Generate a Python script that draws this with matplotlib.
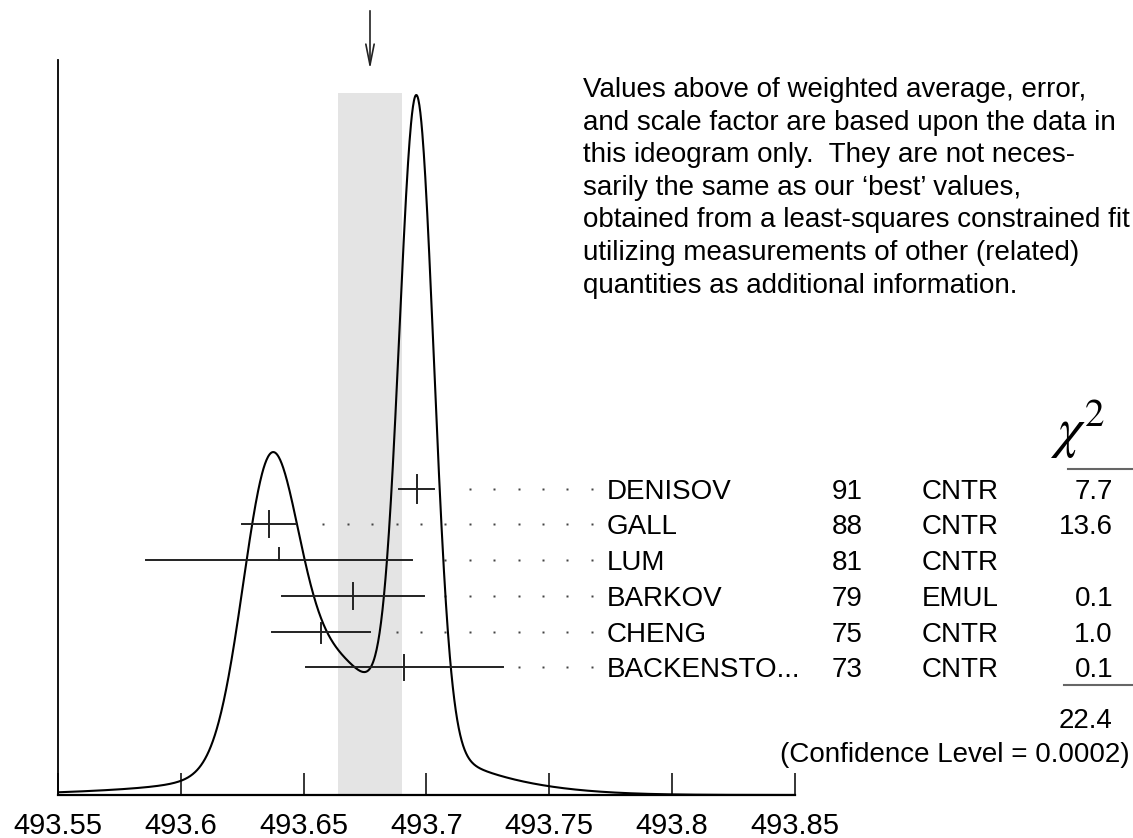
import numpy as np
import matplotlib
matplotlib.use("Agg")
import matplotlib.pyplot as plt
from matplotlib.transforms import blended_transform_factory

plt.rcParams['font.family'] = ['Liberation Sans', 'DejaVu Sans']
plt.rcParams['mathtext.fontset'] = 'stix'

# measurements (ideogram data)
names = ['DENISOV', 'GALL', 'LUM', 'BARKOV', 'CHENG', 'BACKENSTO...']
years = ['91', '88', '81', '79', '75', '73']
techs = ['CNTR', 'CNTR', 'CNTR', 'EMUL', 'CNTR', 'CNTR']
chi2_vals = ['7.7', '13.6', '', '0.1', '1.0', '0.1']
values = [493.696, 493.636, 493.640, 493.670, 493.657, 493.691]
errors = [0.007, 0.011, 0.054, 0.029, 0.020, 0.040]

avg_value = 493.677
avg_error = 0.013
scale_factor = 2.4
chi2_total = '22.4'
conf_level = '0.0002'

tick_vals = [493.55, 493.6, 493.65, 493.7, 493.75, 493.8, 493.85]
tick_labels = ['493.55', '493.6', '493.65', '493.7', '493.75', '493.8', '493.85']

note = ("Values above of weighted average, error,\n"
        "and scale factor are based upon the data in\n"
        "this ideogram only.  They are not neces-\n"
        "sarily the same as our \u2018best\u2019 values,\n"
        "obtained from a least-squares constrained fit\n"
        "utilizing measurements of other (related)\n"
        "quantities as additional information.")

# layout in pixels
W, H = 1133, 838
base_px, top_px = 795, 60
row_px = [489, 524, 560, 596, 632, 667]
tick_up = [14, 12.5, 12, 13, 9, 12.5]
tick_dn = [14, 12.5, 0, 13, 11, 12.5]


def yd(py):
    # pixel row -> data y of the axes
    return (base_px - py) / (base_px - top_px)


fig = plt.figure(figsize=(W / 100, H / 100), dpi=100)
ax = fig.add_axes([58 / W, (H - base_px) / H, 737 / W, (base_px - top_px) / H])
ax.set_xlim(tick_vals[0], tick_vals[-1])
ax.set_ylim(0, 1)

# ideogram: gaussians with area proportional to 1/error
xs = np.linspace(tick_vals[0], tick_vals[-1], 1500)
curve = np.zeros_like(xs)
for v, e in zip(values, errors):
    curve += np.exp(-0.5 * ((xs - v) / e) ** 2) / e ** 2
curve = curve / curve.max() * yd(95)
ax.plot(xs, curve, color='black', lw=1.5, zorder=3)

# weighted average band + arrow
ax.axvspan(avg_value - avg_error, avg_value + avg_error, ymin=0, ymax=yd(93),
           color='#e4e4e4', lw=0, zorder=0)
ax.annotate('', xy=(avg_value, yd(72)), xytext=(avg_value, yd(8)),
            arrowprops=dict(arrowstyle='->,head_length=1.5,head_width=0.3', lw=1.2,
                            color='#222222'),
            annotation_clip=False)

# error bars and dotted leaders
px_per_unit = 737 / (tick_vals[-1] - tick_vals[0])
dot_grid = np.arange(493.658, 493.7725, 24.4 / px_per_unit)
for i, (v, e) in enumerate(zip(values, errors)):
    y = yd(row_px[i])
    ax.plot([v - e, v + e], [y, y], color='#222222', lw=1.4, zorder=4, clip_on=False)
    ax.plot([v, v], [y - tick_dn[i] / 735, y + tick_up[i] / 735], color='#222222',
            lw=1.4, zorder=4, clip_on=False)
    dots = dot_grid[dot_grid > v + e + 15 / px_per_unit]
    ax.plot(dots, np.full(len(dots), y), ls='none', marker='s', ms=2,
            color='#444444', mec='none', clip_on=False)

# axes styling
for s in ['top', 'right']:
    ax.spines[s].set_visible(False)
ax.spines['left'].set_linewidth(1.3)
ax.spines['bottom'].set_linewidth(1.6)
ax.set_yticks([])
ax.set_xticks(tick_vals)
ax.set_xticklabels(tick_labels)
ax.tick_params(axis='x', direction='in', length=16, width=1.1, pad=12,
               labelsize=21, colors='black')

# text table
tr = blended_transform_factory(fig.transFigure, ax.transData)
fs = 20
for i in range(len(names)):
    yb = yd(row_px[i] + 10)
    ax.text(607 / W, yb, names[i], transform=tr, fontsize=fs, va='baseline', ha='left')
    ax.text(832 / W, yb, years[i], transform=tr, fontsize=fs, va='baseline', ha='left')
    ax.text(922 / W, yb, techs[i], transform=tr, fontsize=fs, va='baseline', ha='left')
    ax.text(1113 / W, yb, chi2_vals[i], transform=tr, fontsize=fs, va='baseline', ha='right')


def fpx(x, y):
    return x / W, 1 - y / H


fig.text(*fpx(1050, 447), r'$\chi^2$', fontsize=40, ha='left', va='baseline')
fig.add_artist(plt.Line2D([1068 / W, 1133 / W], [1 - 469 / H] * 2, color='#666666', lw=1.5))
fig.add_artist(plt.Line2D([1064 / W, 1133 / W], [1 - 685 / H] * 2, color='#666666', lw=1.5))
fig.text(*fpx(1113, 728), chi2_total, fontsize=fs, ha='right', va='baseline')
fig.text(*fpx(1130, 762), '(Confidence Level = %s)' % conf_level, fontsize=fs,
         ha='right', va='baseline')

fig.text(*fpx(583, 77), note, fontsize=fs, ha='left', va='top', linespacing=1.33)

# top line (mostly outside the picture)
fig.text(*fpx(548, -6), '%.3f\u00b1%.3f (Error scaled by %.1f)' % (avg_value, avg_error, scale_factor),
         fontsize=fs, ha='right', va='baseline')

fig.savefig('out.png', dpi=100)
